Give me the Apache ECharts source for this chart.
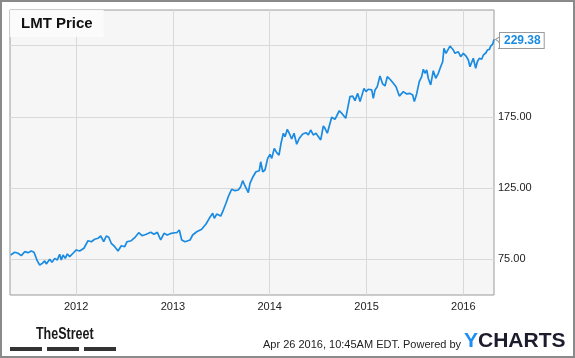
<!DOCTYPE html>
<html>
<head>
<meta charset="utf-8">
<script src="https://cdn.jsdelivr.net/npm/echarts@6/dist/echarts.min.js"></script>
<style>
html,body{margin:0;padding:0;background:#fff;}
#c{width:575px;height:358px;}
</style>
</head>
<body>
<div id="c"></div>
<script>
// Decimal year of each observation (Apr 26 2011 .. Apr 26 2016)
const years = [
2011.324,2011.366,2011.400,2011.434,2011.469,2011.503,2011.537,2011.565,2011.578,2011.599,
2011.624,2011.651,2011.675,2011.692,2011.727,2011.751,2011.779,2011.806,2011.830,2011.847,
2011.865,2011.888,2011.909,2011.934,2011.968,2012.002,2012.037,2012.081,2012.123,2012.157,
2012.192,2012.226,2012.254,2012.285,2012.312,2012.337,2012.363,2012.399,2012.433,2012.467,
2012.502,2012.526,2012.570,2012.605,2012.647,2012.681,2012.725,2012.771,2012.805,2012.839,
2012.874,2012.908,2012.942,2012.983,2013.018,2013.039,2013.066,2013.091,2013.125,2013.177,
2013.204,2013.246,2013.297,2013.342,2013.376,2013.411,2013.428,2013.452,2013.494,2013.521,
2013.548,2013.572,2013.590,2013.607,2013.641,2013.675,2013.700,2013.721,2013.745,2013.779,
2013.796,2013.824,2013.858,2013.892,2013.907,2013.928,2013.951,2013.979,2014.003,2014.021,
2014.047,2014.072,2014.096,2014.117,2014.141,2014.158,2014.182,2014.202,2014.227,2014.251,
2014.279,2014.306,2014.341,2014.375,2014.399,2014.423,2014.450,2014.478,2014.527,2014.554,
2014.571,2014.595,2014.640,2014.674,2014.719,2014.744,2014.785,2014.801,2014.829,2014.857,
2014.881,2014.909,2014.933,2014.974,2014.995,2015.018,2015.054,2015.070,2015.088,2015.111,
2015.139,2015.167,2015.191,2015.215,2015.243,2015.277,2015.305,2015.339,2015.380,2015.415,
2015.449,2015.477,2015.494,2015.518,2015.545,2015.570,2015.587,2015.604,2015.622,2015.638,
2015.663,2015.690,2015.715,2015.742,2015.766,2015.787,2015.800,2015.821,2015.839,2015.862,
2015.880,2015.897,2015.914,2015.932,2015.948,2015.973,2016.000,2016.028,2016.052,2016.069,
2016.087,2016.103,2016.128,2016.145,2016.165,2016.190,2016.207,2016.234,2016.248,2016.269,
2016.283,2016.304,2016.317
];
// LMT closing price (USD)
const prices = [
78.1,80.0,79.3,77.6,80.4,79.7,80.9,80.0,81.1,73.9,
71.0,72.2,73.9,71.8,75.1,72.9,75.7,74.6,78.6,74.6,
78.1,75.7,78.8,76.9,79.3,81.6,80.9,82.8,88.1,87.4,
89.1,89.8,91.4,87.4,91.4,90.5,86.3,83.9,80.9,84.6,
83.9,87.4,88.1,90.2,93.7,91.6,92.6,94.0,92.6,94.0,
88.6,93.3,92.1,93.3,93.7,93.7,95.6,88.6,87.4,88.6,
92.1,94.4,96.1,99.8,103.8,107.3,103.8,106.8,105.4,109.6,
114.4,119.0,120.2,124.2,123.2,123.7,126.0,130.2,126.5,121.8,
128.4,132.6,136.5,137.2,143.5,136.5,137.7,145.9,148.7,145.9,
152.9,149.9,148.2,156.5,163.5,161.1,166.3,163.5,159.5,163.5,
155.8,160.0,163.0,163.9,162.3,165.8,162.3,163.5,158.8,168.6,
167.0,163.5,174.7,173.3,179.3,177.5,174.0,174.7,189.2,189.6,
186.4,191.5,185.7,195.0,192.7,194.4,193.9,188.0,193.9,196.2,
203.7,198.1,196.7,203.2,201.4,198.6,196.2,189.6,192.7,191.1,
191.5,190.4,185.7,191.1,199.7,203.2,208.4,205.6,207.9,202.1,
197.4,207.4,202.1,205.6,210.2,213.7,223.1,219.6,218.4,224.7,
225.4,221.9,219.6,218.4,220.7,217.2,219.6,217.7,214.9,210.2,
211.4,216.1,209.1,213.7,216.1,215.4,218.4,220.0,221.9,222.4,
224.7,226.1,229.38
];
const yearTicks = [2012, 2013, 2014, 2015, 2016];
const priceTicks = [75, 125, 175, 225];
const titleText = 'LMT Price';
const stampText = 'Apr 26 2016, 10:45AM EDT. Powered by';

const seriesData = years.map((y, i) => [y, prices[i]]);
const last = seriesData[seriesData.length - 1];

const chart = echarts.init(document.getElementById('c'), null, {renderer: 'canvas'});
chart.setOption({
  animation: false,
  backgroundColor: '#ffffff',
  textStyle: {fontFamily: 'Liberation Sans, Arial, sans-serif'},
  title: {
    text: titleText,
    left: 10, top: 10,
    padding: [6, 11, 6, 11],
    backgroundColor: 'rgba(251,251,251,0.95)',
    textStyle: {fontSize: 15, fontWeight: 'bold', color: '#111', fontFamily: 'Liberation Sans, Arial, sans-serif'}
  },
  grid: {
    left: 10, top: 10, right: 81, bottom: 63,
    show: true, backgroundColor: '#f6f6f6', borderColor: '#9a9a9a', borderWidth: 1
  },
  xAxis: {
    type: 'value', min: 2011.317, max: 2016.317,
    axisLine: {show: false},
    axisTick: {show: false, customValues: yearTicks},
    axisLabel: {customValues: yearTicks, formatter: v => String(Math.round(v)), color: '#222', fontSize: 11, margin: 6},
    splitLine: {show: true, lineStyle: {color: '#d9d9d9', width: 1}}
  },
  yAxis: {
    type: 'value', position: 'right', min: 50, max: 250,
    axisLine: {show: false},
    axisTick: {show: false, customValues: priceTicks},
    axisLabel: {customValues: priceTicks, formatter: v => v.toFixed(2), color: '#222', fontSize: 11, margin: 4, align: 'left'},
    splitLine: {show: true, lineStyle: {color: '#d9d9d9', width: 1}}
  },
  series: [{
    type: 'line',
    data: seriesData,
    showSymbol: false,
    lineStyle: {color: '#1a8be2', width: 1.7},
    z: 5,
    endLabel: {
      show: true,
      formatter: p => p.value[1].toFixed(2),
      color: '#1a8be2', fontSize: 12, fontWeight: 'bold',
      backgroundColor: '#ffffff', borderColor: '#9a9a9a', borderWidth: 1,
      padding: [2, 3, 1, 4], distance: 6, offset: [0, 1]
    },
    markPoint: {
      silent: true,
      symbol: 'triangle', symbolSize: [9, 7], symbolRotate: 90, symbolOffset: [5, 0],
      itemStyle: {color: '#ffffff', borderColor: '#9a9a9a', borderWidth: 1},
      label: {show: false},
      data: [{coord: last}]
    }
  }],
  graphic: [
    {type: 'rect', shape: {x: 1, y: 1, width: 573, height: 356}, style: {fill: 'none', stroke: '#8a8a8a', lineWidth: 2}, silent: true, z: 100},
    {type: 'text', x: 36, y: 327, scaleX: 0.78, style: {text: 'TheStreet', font: 'bold 16px "Liberation Sans", Arial, sans-serif', fill: '#1a1a1a'}},
    {type: 'rect', shape: {x: 10, y: 347, width: 32, height: 4}, style: {fill: '#333'}},
    {type: 'rect', shape: {x: 47, y: 347, width: 32, height: 4}, style: {fill: '#333'}},
    {type: 'rect', shape: {x: 84, y: 347, width: 32, height: 4}, style: {fill: '#333'}},
    {type: 'text', left: 263, top: 339, style: {text: stampText, font: '11px "Liberation Sans", Arial, sans-serif', fill: '#222'}},
    {type: 'text', left: 464, top: 331, style: {
      text: '{y|Y}{c|CHARTS}',
      rich: {
        y: {fontSize: 21, fontWeight: 'bold', fontFamily: 'Liberation Sans, Arial, sans-serif', fill: '#1e8ff0', color: '#1e8ff0'},
        c: {fontSize: 21, fontWeight: 'bold', fontFamily: 'Liberation Sans, Arial, sans-serif', fill: '#1c1c2c', color: '#1c1c2c'}
      }
    }}
  ]
});
</script>
</body>
</html>
